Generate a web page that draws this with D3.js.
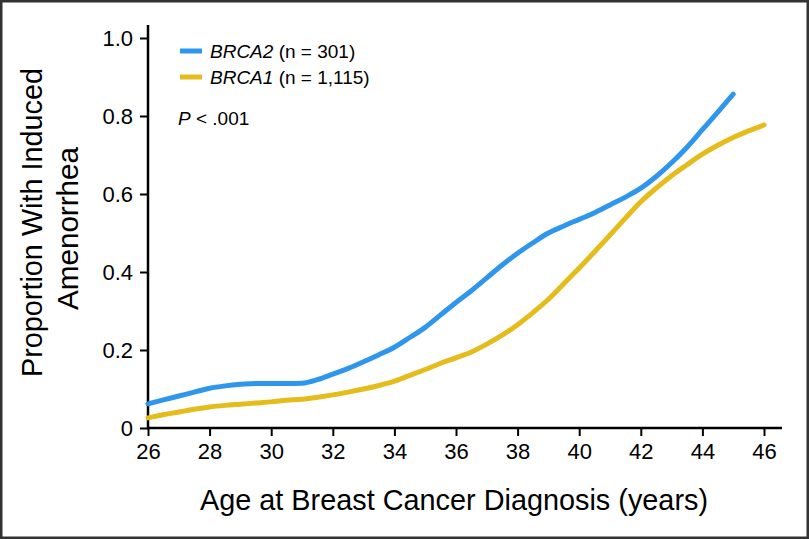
<!DOCTYPE html>
<html>
<head>
<meta charset="utf-8">
<script src="https://cdn.jsdelivr.net/npm/d3@7"></script>
<style>
  html, body { margin: 0; padding: 0; background: #fff; }
  svg { display: block; }
  text { font-family: "Liberation Sans", Arial, Helvetica, sans-serif; fill: #000; }
</style>
</head>
<body>
<svg id="chart" width="809" height="539"></svg>
<script>
// ---- data ----
const ages = [26,26.5,27,27.5,28,28.5,29,29.5,30,30.5,31,31.5,32,32.5,33,33.5,34,34.5,35,35.5,36,36.5,37,37.5,38,38.5,39,39.5,40,40.5,41,41.5,42,42.5,43,43.5,44,44.5,45,45.5,46];
const brca2 = [0.062,0.072,0.082,0.092,0.102,0.108,0.112,0.114,0.114,0.114,0.115,0.124,0.138,0.153,0.170,0.188,0.207,0.232,0.258,0.290,0.322,0.352,0.385,0.418,0.448,0.475,0.500,0.518,0.535,0.552,0.572,0.592,0.615,0.645,0.680,0.720,0.765,0.810,0.856];
const brca1 = [0.026,0.034,0.041,0.048,0.054,0.058,0.061,0.064,0.067,0.071,0.074,0.079,0.085,0.092,0.100,0.109,0.120,0.135,0.150,0.166,0.180,0.195,0.215,0.238,0.265,0.296,0.330,0.370,0.410,0.452,0.495,0.538,0.580,0.615,0.647,0.675,0.702,0.725,0.745,0.762,0.777];
const xTicks = [26,28,30,32,34,36,38,40,42,44,46];
const yTicks = [0,0.2,0.4,0.6,0.8,1.0];
const seriesNames = ["BRCA2", "BRCA1"];
const seriesN = ["(n = 301)", "(n = 1,115)"];
const colors = ["#2f96ee", "#e4bc1b"];

// ---- layout ----
const svg = d3.select("#chart");
const x = d3.scaleLinear().domain([26, 46]).range([148, 764]);
const y = d3.scaleLinear().domain([0, 1]).range([428, 38]);

// frame
svg.append("rect").attr("x", 1.25).attr("y", 1.25).attr("width", 806.5).attr("height", 536.5)
  .attr("fill", "none").attr("stroke", "#333").attr("stroke-width", 2.5);

// axes
const xAxis = svg.append("g").attr("transform", "translate(0,428)")
  .call(d3.axisBottom(x).tickValues(xTicks).tickSize(8).tickPadding(7).tickFormat(d3.format("d")));
xAxis.select(".domain").remove();
xAxis.append("line").attr("x1", 148).attr("x2", 782).attr("y1", 0).attr("y2", 0)
  .attr("stroke", "#000").attr("stroke-width", 2.5);

const yAxis = svg.append("g").attr("transform", "translate(148,0)")
  .call(d3.axisLeft(y).tickValues(yTicks).tickSize(8).tickPadding(7)
    .tickFormat(d => d === 0 ? "0" : d3.format(".1f")(d)));
yAxis.select(".domain").remove();
yAxis.append("line").attr("x1", 0).attr("x2", 0).attr("y1", 25).attr("y2", 429.25)
  .attr("stroke", "#000").attr("stroke-width", 2.5);

svg.selectAll(".tick line").attr("stroke", "#000").attr("stroke-width", 2);
svg.selectAll(".tick text")
  .style("font-size", "22px")
  .style("font-family", "'Liberation Sans', Arial, sans-serif")
  .style("fill", "#000");

// lines
const line = d3.line().x(d => x(d[0])).y(d => y(d[1])).curve(d3.curveMonotoneX);
const data2 = brca2.map((v, i) => [ages[i], v]);
const data1 = brca1.map((v, i) => [ages[i], v]);
svg.append("path").datum(data1).attr("d", line).attr("fill", "none")
  .attr("stroke", colors[1]).attr("stroke-width", 5).attr("stroke-linecap", "round").attr("stroke-linejoin", "round");
svg.append("path").datum(data2).attr("d", line).attr("fill", "none")
  .attr("stroke", colors[0]).attr("stroke-width", 5).attr("stroke-linecap", "round").attr("stroke-linejoin", "round");

// legend
const legY = [51, 77];
seriesNames.forEach((name, i) => {
  svg.append("line").attr("x1", 180).attr("x2", 202).attr("y1", legY[i]).attr("y2", legY[i])
    .attr("stroke", colors[i]).attr("stroke-width", 5);
  const t = svg.append("text").attr("x", 210).attr("y", legY[i] + 6.5).style("font-size", "19px");
  t.append("tspan").attr("font-style", "italic").text(name);
  t.append("tspan").text(" " + seriesN[i]);
});
const p = svg.append("text").attr("x", 178).attr("y", 125).style("font-size", "19px");
p.append("tspan").attr("font-style", "italic").text("P");
p.append("tspan").text(" < .001");

// axis titles
svg.append("text").attr("x", 454).attr("y", 510).attr("text-anchor", "middle")
  .style("font-size", "30px").attr("textLength", 508).attr("lengthAdjust", "spacingAndGlyphs")
  .text("Age at Breast Cancer Diagnosis (years)");

svg.append("text").attr("transform", "translate(42,377) rotate(-90)")
  .style("font-size", "30px").attr("textLength", 309).attr("lengthAdjust", "spacingAndGlyphs")
  .text("Proportion With Induced");
svg.append("text").attr("transform", "translate(78,310) rotate(-90)")
  .style("font-size", "30px").attr("textLength", 163).attr("lengthAdjust", "spacingAndGlyphs")
  .text("Amenorrhea");
</script>
</body>
</html>
